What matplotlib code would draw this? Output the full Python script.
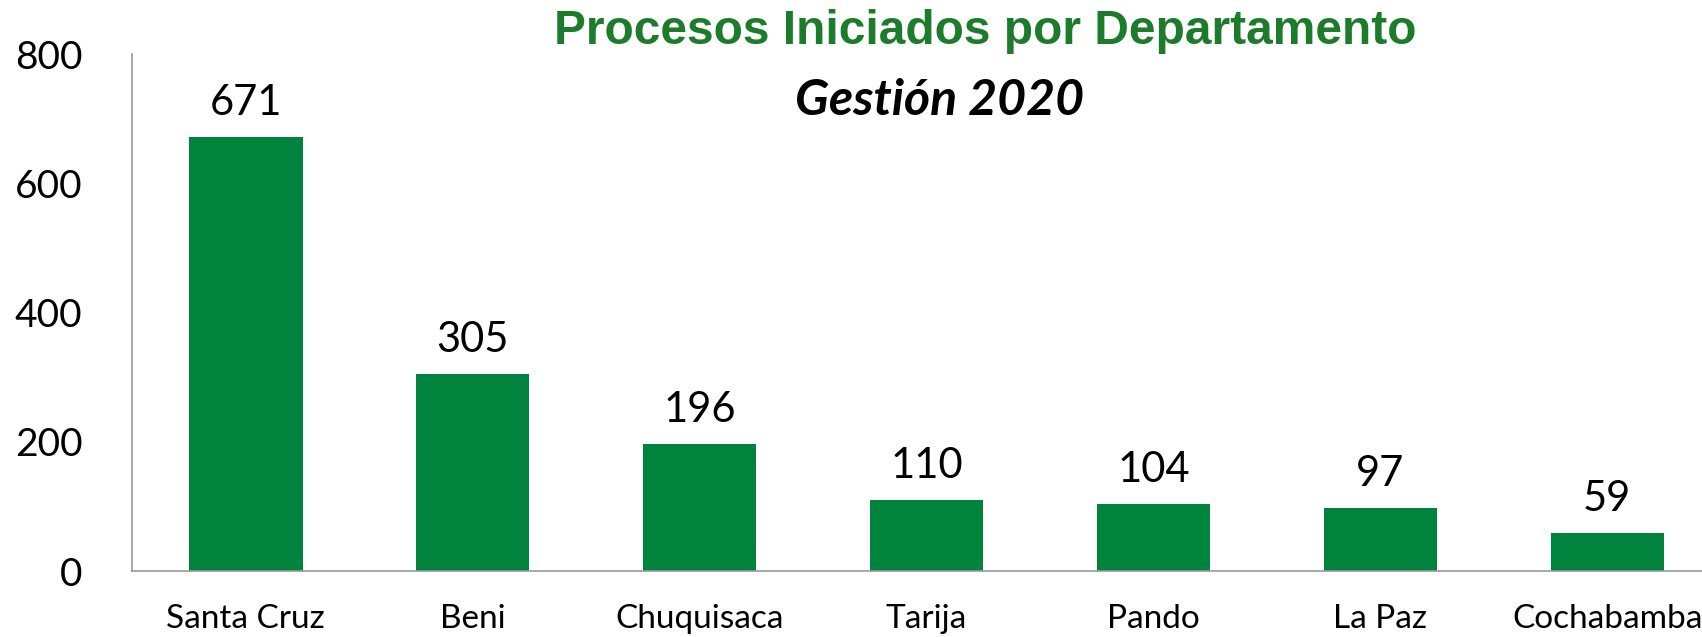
import matplotlib
matplotlib.use("Agg")
import matplotlib.pyplot as plt

departamentos = ["Santa Cruz", "Beni", "Chuquisaca", "Tarija", "Pando", "La Paz", "Cochabamba"]
procesos = [671, 305, 196, 110, 104, 97, 59]
y_ticks = [0, 200, 400, 600, 800]

BAR_COLOR = "#00843D"
TITLE_COLOR = "#1C7C2C"
AXIS_COLOR = "#9a9a9a"

fig = plt.figure(figsize=(17.02, 6.37), dpi=100)
ax = fig.add_axes([0.0778, 0.1036, 0.9332, 0.8116])

x = list(range(len(departamentos)))
bars = ax.bar(x, procesos, width=0.5, color=BAR_COLOR, zorder=2)

for rect, val in zip(bars, procesos):
    ax.annotate(
        str(val),
        xy=(rect.get_x() + rect.get_width() / 2, rect.get_height()),
        xytext=(0, 11),
        textcoords="offset points",
        ha="center",
        va="bottom",
        fontsize=30,
        family="Lato",
    )

ax.set_xlim(-0.5, len(departamentos) - 0.5)
ax.set_ylim(0, 800)
ax.set_yticks(y_ticks)
ax.set_yticklabels([str(t) for t in y_ticks], fontsize=28, family="Lato")
ax.set_xticks(x)
ax.set_xticklabels(departamentos, fontsize=24, family="Lato")

ax.tick_params(axis="y", length=0, pad=36)
ax.tick_params(axis="x", length=0, pad=24)

for side in ["top", "right"]:
    ax.spines[side].set_visible(False)
for side in ["left", "bottom"]:
    ax.spines[side].set_color(AXIS_COLOR)
    ax.spines[side].set_linewidth(1.2)

fig.text(0.579, 0.950, "Procesos Iniciados por Departamento",
         ha="center", va="center", fontsize=34.5, fontweight="bold",
         color=TITLE_COLOR, family="Liberation Sans")
fig.text(0.552, 0.843, "Gestión 2020",
         ha="center", va="center", fontsize=36, fontweight="bold",
         fontstyle="italic", color="black", family="Lato")

fig.savefig("out.png", dpi=100)
